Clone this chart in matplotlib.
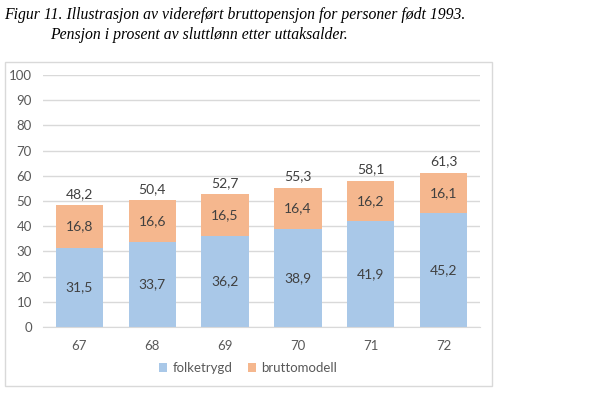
import matplotlib.pyplot as plt
from matplotlib.patches import Rectangle
import numpy as np

# data
ages = ['67', '68', '69', '70', '71', '72']
folketrygd = [31.5, 33.7, 36.2, 38.9, 41.9, 45.2]
bruttomodell = [16.8, 16.6, 16.5, 16.4, 16.2, 16.1]
totals = [48.2, 50.4, 52.7, 55.3, 58.1, 61.3]

blue = '#a9c8e8'
orange = '#f5b78e'
grid_col = '#d9d9d9'
text_col = '#595959'
label_col = '#404040'

def fmt(v):
    return f'{v:.1f}'.replace('.', ',')

plt.rcParams['font.family'] = ['Lato', 'DejaVu Sans']

fig = plt.figure(figsize=(6.09, 3.95), dpi=100)
W, H = 609, 395

# chart frame like excel
fig.patches.append(Rectangle((5 / W, 1 - 386 / H), 487 / W, 324 / H,
                             transform=fig.transFigure, fill=False,
                             edgecolor=grid_col, linewidth=1))

ax = fig.add_axes([43 / W, 1 - 327 / H, 437 / W, 252 / H])
x = np.arange(len(ages))
w = 0.65
ax.bar(x, folketrygd, w, color=blue, label='folketrygd', zorder=2)
ax.bar(x, bruttomodell, w, bottom=folketrygd, color=orange, label='bruttomodell', zorder=2)

for i in range(len(ages)):
    ax.text(x[i], folketrygd[i] / 2, fmt(folketrygd[i]), ha='center', va='center',
            fontsize=10, color=label_col, zorder=3)
    ax.text(x[i], folketrygd[i] + bruttomodell[i] / 2, fmt(bruttomodell[i]),
            ha='center', va='center', fontsize=10, color=label_col, zorder=3)
    ax.text(x[i], totals[i] + 2, fmt(totals[i]), ha='center', va='bottom',
            fontsize=10, color=label_col, zorder=3)

ax.set_xlim(-0.5, len(ages) - 0.5)
ax.set_ylim(0, 100)
ax.set_yticks(range(0, 101, 10))
ax.set_xticks(x)
ax.set_xticklabels(ages)
ax.tick_params(length=0, labelsize=9.5, colors=text_col)
ax.tick_params(axis='x', pad=9)
ax.tick_params(axis='y', pad=8)
ax.grid(axis='y', color=grid_col, linewidth=1, zorder=0)
for s in ['top', 'right', 'left']:
    ax.spines[s].set_visible(False)
ax.spines['bottom'].set_color(grid_col)

fig.legend(loc='center', bbox_to_anchor=(248 / W, 1 - 368 / H), ncol=2,
           frameon=False, fontsize=9.5, labelcolor=text_col,
           handlelength=0.6, handleheight=0.6, handletextpad=0.4, columnspacing=1.2)

fig.text(4 / W, 1 - 15 / H, 'Figur 11. Illustrasjon av videreført bruttopensjon for personer født 1993.',
         family='Liberation Serif', style='italic', fontsize=11.3, va='center', color='black')
fig.text(50 / W, 1 - 35 / H, 'Pensjon i prosent av sluttlønn etter uttaksalder.',
         family='Liberation Serif', style='italic', fontsize=11.3, va='center', color='black')

fig.savefig('out.png', dpi=100)
